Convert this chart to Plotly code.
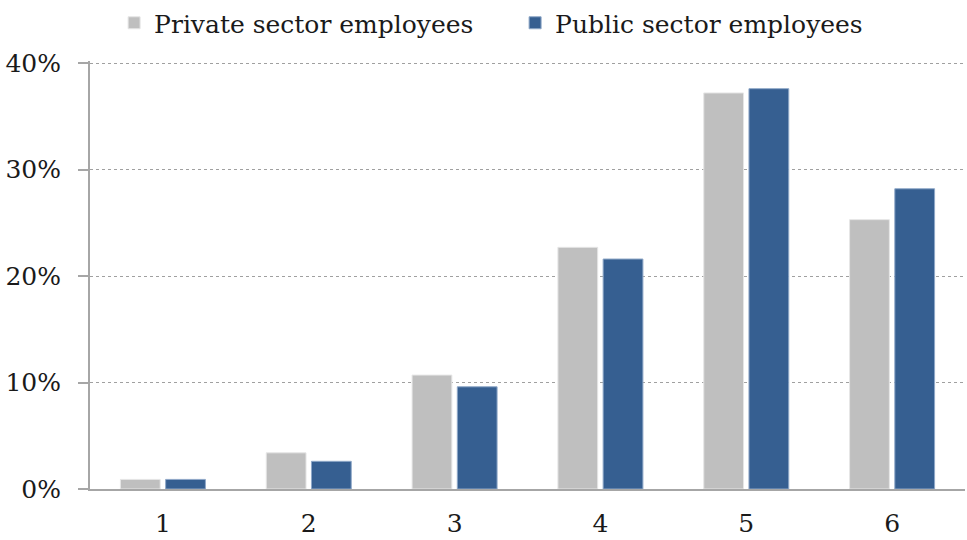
import plotly.graph_objects as go

# Distribution by category, share of employees (%)
categories = ["1", "2", "3", "4", "5", "6"]
private_sector = [0.9, 3.4, 10.7, 22.7, 37.2, 25.3]
public_sector = [0.9, 2.6, 9.6, 21.6, 37.6, 28.2]
y_ticks = [0, 10, 20, 30, 40]
y_tick_labels = [f"{v}%" for v in y_ticks]

FONT = "DejaVu Serif"
GREY = "#BFBFBF"
BLUE = "#365F91"
AXIS = "#A6A6A6"

fig = go.Figure()
fig.add_trace(go.Bar(
    x=categories, y=private_sector, name="Private sector employees",
    marker=dict(color=GREY, line=dict(color="#E6E6E6", width=1)),
))
fig.add_trace(go.Bar(
    x=categories, y=public_sector, name="Public sector employees",
    marker=dict(color=BLUE, line=dict(color="#8FA8C8", width=1)),
))

fig.update_layout(
    width=967, height=540,
    margin=dict(l=90, r=2, t=61, b=51),
    paper_bgcolor="white", plot_bgcolor="white",
    barmode="group", bargap=0.38, bargroupgap=0.12,
    font=dict(family=FONT, color="#1A1A1A", size=25),
    legend=dict(
        orientation="h", x=0.118, xref="container", xanchor="left",
        y=1.0, yref="container", yanchor="top",
        font=dict(family=FONT, size=25), itemwidth=30,
        entrywidth=356, traceorder="normal",
    ),
    showlegend=True,
)
fig.update_xaxes(
    type="category", showline=True, linecolor=AXIS, linewidth=2,
    ticks="", ticklabelstandoff=11, tickfont=dict(size=25),
    showgrid=False, zeroline=False,
)
fig.update_yaxes(
    range=[0, 40.2], tickvals=y_ticks, ticktext=y_tick_labels,
    showline=True, linecolor=AXIS, linewidth=2,
    ticks="outside", ticklen=10, tickcolor=AXIS, tickwidth=2,
    ticklabelstandoff=12, tickfont=dict(size=25),
    showgrid=True, gridcolor="#A0A0A0", griddash="dot", gridwidth=1,
    zeroline=False,
)

fig.write_html("out.html")
